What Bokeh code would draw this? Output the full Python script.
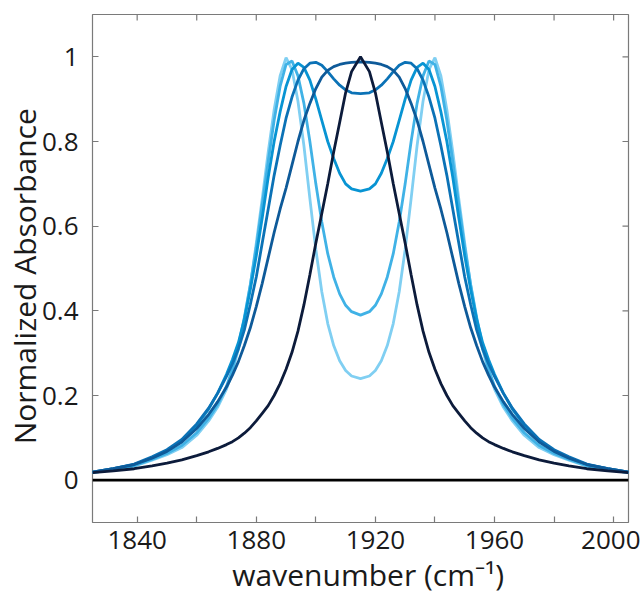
import math
from bokeh.plotting import figure
from bokeh.models import Range1d, FixedTicker, Span
from bokeh.embed import file_html
from bokeh.resources import INLINE

# wavenumber grid (cm^-1)
wavenumber = [1825, 1832, 1839, 1845, 1850, 1855, 1860, 1864, 1867, 1870, 1872, 1874, 1876, 1878, 1880,
              1882, 1884, 1886, 1888, 1890, 1892, 1894, 1896, 1898, 1900, 1902, 1904, 1906, 1908, 1910,
              1912, 1915,
              1918, 1920, 1922, 1924, 1926, 1928, 1930, 1932, 1934, 1936, 1938, 1940, 1942, 1944, 1946,
              1948, 1950, 1952, 1954, 1956, 1958, 1960, 1963, 1966, 1970, 1975, 1980, 1985, 1991, 1998, 2005]

spec_1 = [0.018, 0.025, 0.033, 0.047, 0.060, 0.077, 0.106, 0.140, 0.172, 0.215, 0.255, 0.31, 0.38, 0.46, 0.56,
          0.665, 0.775, 0.875, 0.955, 0.998, 0.97, 0.895, 0.79, 0.665, 0.545, 0.445, 0.37, 0.318, 0.282, 0.259,
          0.246, 0.24,
          0.246, 0.259, 0.282, 0.318, 0.37, 0.445, 0.545, 0.665, 0.79, 0.895, 0.97, 0.998, 0.955, 0.875, 0.775,
          0.665, 0.56, 0.46, 0.38, 0.31, 0.255, 0.215, 0.172, 0.140, 0.106, 0.077, 0.060, 0.047, 0.033, 0.025, 0.018]

spec_2 = [0.018, 0.025, 0.034, 0.049, 0.063, 0.082, 0.112, 0.146, 0.178, 0.222, 0.262, 0.318, 0.385, 0.462, 0.55,
          0.65, 0.752, 0.85, 0.93, 0.982, 0.99, 0.955, 0.89, 0.80, 0.70, 0.61, 0.535, 0.48, 0.44, 0.413,
          0.398, 0.39,
          0.398, 0.413, 0.44, 0.48, 0.535, 0.61, 0.70, 0.80, 0.89, 0.955, 0.99, 0.982, 0.93, 0.85, 0.752,
          0.65, 0.55, 0.462, 0.385, 0.318, 0.262, 0.222, 0.178, 0.146, 0.112, 0.082, 0.063, 0.049, 0.034, 0.025, 0.018]

spec_3 = [0.019, 0.027, 0.037, 0.053, 0.070, 0.093, 0.13, 0.168, 0.205, 0.25, 0.285, 0.325, 0.38, 0.45, 0.53,
          0.62, 0.715, 0.80, 0.87, 0.93, 0.97, 0.985, 0.975, 0.945, 0.90, 0.85, 0.80, 0.76, 0.725, 0.70,
          0.688, 0.683,
          0.688, 0.70, 0.725, 0.76, 0.80, 0.85, 0.90, 0.945, 0.975, 0.985, 0.97, 0.93, 0.87, 0.80, 0.715,
          0.62, 0.53, 0.45, 0.38, 0.325, 0.285, 0.25, 0.205, 0.168, 0.13, 0.093, 0.070, 0.053, 0.037, 0.027, 0.019]

spec_4 = [0.019, 0.027, 0.038, 0.055, 0.072, 0.096, 0.133, 0.17, 0.205, 0.245, 0.275, 0.31, 0.355, 0.415, 0.48,
          0.56, 0.64, 0.72, 0.79, 0.855, 0.905, 0.945, 0.972, 0.985, 0.987, 0.98, 0.965, 0.948, 0.933, 0.922,
          0.915, 0.913,
          0.915, 0.922, 0.933, 0.948, 0.965, 0.98, 0.987, 0.985, 0.972, 0.945, 0.905, 0.855, 0.79, 0.72, 0.64,
          0.56, 0.48, 0.415, 0.355, 0.31, 0.275, 0.245, 0.205, 0.17, 0.133, 0.096, 0.072, 0.055, 0.038, 0.027, 0.019]

spec_5 = [0.019, 0.027, 0.037, 0.052, 0.068, 0.090, 0.122, 0.155, 0.185, 0.22, 0.248, 0.28, 0.318, 0.36, 0.41,
          0.465, 0.525, 0.585, 0.64, 0.69, 0.745, 0.80, 0.85, 0.89, 0.925, 0.952, 0.968, 0.977, 0.982, 0.985,
          0.987, 0.988,
          0.987, 0.985, 0.982, 0.977, 0.968, 0.952, 0.925, 0.89, 0.85, 0.80, 0.745, 0.69, 0.64, 0.585, 0.525,
          0.465, 0.41, 0.36, 0.318, 0.28, 0.248, 0.22, 0.185, 0.155, 0.122, 0.090, 0.068, 0.052, 0.037, 0.027, 0.019]

spec_6 = [0.018, 0.022, 0.027, 0.034, 0.040, 0.048, 0.058, 0.067, 0.075, 0.084, 0.091, 0.10, 0.111, 0.124, 0.14,
          0.158, 0.176, 0.20, 0.228, 0.262, 0.302, 0.352, 0.414, 0.485, 0.56, 0.63, 0.70, 0.775, 0.845, 0.915,
          0.965, 1.0,
          0.965, 0.915, 0.845, 0.775, 0.70, 0.63, 0.56, 0.485, 0.414, 0.352, 0.302, 0.262, 0.228, 0.20, 0.176,
          0.158, 0.14, 0.124, 0.111, 0.10, 0.091, 0.084, 0.075, 0.067, 0.058, 0.048, 0.040, 0.034, 0.027, 0.022, 0.018]

series = [spec_1, spec_2, spec_3, spec_4, spec_5, spec_6]
colors = ["#80CFF2", "#40B2E6", "#0894D3", "#0B72B6", "#0E5A99", "#0C1B3B"]
baseline = 0.0

x_lim = (1825, 2005)
y_lim = (-0.1, 1.1)
x_major = [1840, 1880, 1920, 1960, 2000]
x_minor = [1860, 1900, 1940, 1980]
y_ticks = [0, 0.2, 0.4, 0.6, 0.8, 1]
y_labels = {0: "0", 0.2: "0.2", 0.4: "0.4", 0.6: "0.6", 0.8: "0.8", 1: "1"}

FONT = "Open Sans"
TXT = "#1a1a1a"
TICKC = "#7a7a7a"

p = figure(width=640, height=598, output_backend="svg", toolbar_location=None,
           x_range=Range1d(*x_lim), y_range=Range1d(*y_lim),
           min_border_left=92, min_border_right=12, min_border_top=14, min_border_bottom=76)
p.grid.visible = False
p.outline_line_color = TICKC
p.outline_line_width = 1.2
p.background_fill_color = "white"
p.border_fill_color = "white"

for ys, c in zip(series, colors):
    p.line(wavenumber, ys, line_color=c, line_width=2.8)

p.add_layout(Span(location=baseline, dimension="width", line_color="black", line_width=2.6))

# mirrored tick marks on the top and right edges (half of each dash is clipped by the frame)
all_x_ticks = x_major + x_minor
p.scatter(all_x_ticks, [y_lim[1]] * len(all_x_ticks), marker="dash", angle=math.pi / 2,
          size=12, line_color=TICKC, line_width=1.2)
p.scatter([x_lim[1]] * len(y_ticks), y_ticks, marker="dash", size=12,
          line_color=TICKC, line_width=1.2)


def style(ax):
    ax.axis_line_color = None
    ax.major_tick_in = 6
    ax.major_tick_out = 0
    ax.minor_tick_in = 6
    ax.minor_tick_out = 0
    ax.major_tick_line_color = TICKC
    ax.minor_tick_line_color = TICKC
    ax.major_tick_line_width = 1.2
    ax.minor_tick_line_width = 1.2
    ax.major_label_text_font = FONT
    ax.major_label_text_font_size = "26px"
    ax.major_label_text_color = TXT
    ax.axis_label_text_font = FONT
    ax.axis_label_text_font_size = "30px"
    ax.axis_label_text_font_style = "normal"
    ax.axis_label_text_color = TXT


xa = p.xaxis[0]
xa.ticker = FixedTicker(ticks=x_major, minor_ticks=x_minor)
style(xa)
xa.axis_label = "\u00a0\u00a0wavenumber (cm\u207b\u00b9)"
xa.major_label_standoff = 8
xa.axis_label_standoff = 2

ya = p.yaxis[0]
ya.ticker = FixedTicker(ticks=y_ticks, minor_ticks=[])
style(ya)
ya.major_label_overrides = y_labels
ya.axis_label = "Normalized Absorbance\u00a0\u00a0"
ya.major_label_standoff = 14
ya.axis_label_standoff = -6

open("out.html", "w").write(file_html(p, INLINE))
